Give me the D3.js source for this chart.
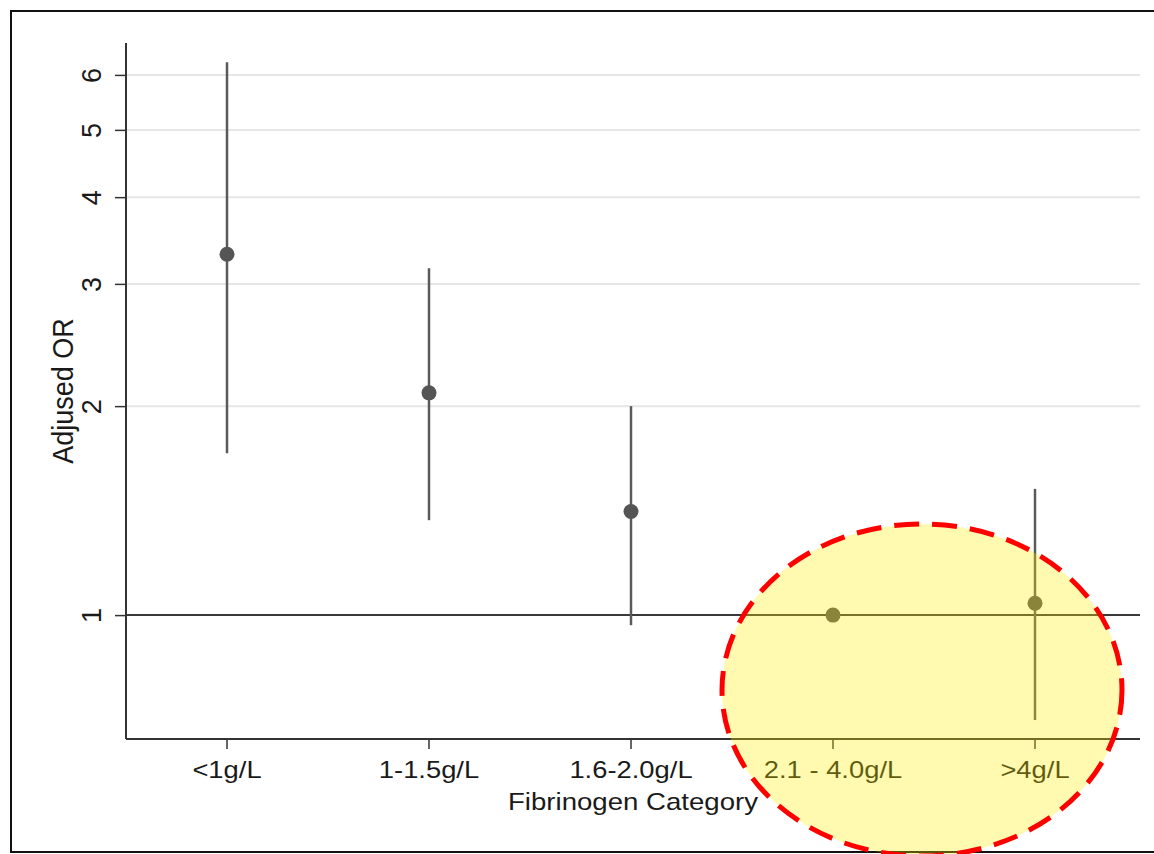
<!DOCTYPE html>
<html>
<head>
<meta charset="utf-8">
<script src="https://cdn.jsdelivr.net/npm/d3@7"></script>
<style>
  body { margin: 0; background: #fff; }
  text { font-family: "Liberation Sans", Arial, Helvetica, sans-serif; fill: #1a1a1a; }
</style>
</head>
<body>
<div id="chart"></div>
<script>
// data
var categories = ["<1g/L", "1-1.5g/L", "1.6-2.0g/L", "2.1 - 4.0g/L", ">4g/L"];
var orValues = [3.31, 2.09, 1.41, 1.00, 1.04];
var ciLow = [1.71, 1.37, 0.967, null, 0.706];
var ciHigh = [6.26, 3.16, 2.00, null, 1.52];
var yTicks = [1, 2, 3, 4, 5, 6];
var yDomain = [0.663, 6.67];

var width = 1154, height = 854;
var plotLeft = 126, plotRight = 1136, gridRight = 1140;
var plotTop = 43, plotBottom = 739;

var svg = d3.select("#chart")
    .append("svg")
    .attr("width", width)
    .attr("height", height);

// frame round the figure
svg.append("rect")
    .attr("x", 11)
    .attr("y", 11)
    .attr("width", 1160)
    .attr("height", 841)
    .attr("fill", "#fff")
    .attr("stroke", "#111")
    .attr("stroke-width", 2);

var x = d3.scaleBand()
    .domain(categories)
    .range([plotLeft, plotRight])
    .padding(0);

var y = d3.scaleLog()
    .domain(yDomain)
    .range([plotBottom, plotTop]);

var cx = function(i){ return x(categories[i]) + x.bandwidth() / 2; };

// gridlines (not at 1, that one is the reference line)
svg.append("g")
    .selectAll("line")
    .data(yTicks.filter(function(d){ return d !== 1; }))
    .enter()
    .append("line")
    .attr("x1", plotLeft)
    .attr("x2", gridRight)
    .attr("y1", function(d){ return y(d); })
    .attr("y2", function(d){ return y(d); })
    .attr("stroke", "#e6e6e6")
    .attr("stroke-width", 2);

// reference line at OR = 1
svg.append("line")
    .attr("x1", plotLeft)
    .attr("x2", gridRight)
    .attr("y1", y(1))
    .attr("y2", y(1))
    .attr("stroke", "#3a3a3a")
    .attr("stroke-width", 2);

// y axis
var yAxis = svg.append("g")
    .attr("transform", "translate(" + plotLeft + ",0)")
    .call(d3.axisLeft(y).tickValues(yTicks).tickFormat(d3.format("d")).tickSize(11));
yAxis.select(".domain").remove();
yAxis.append("line")
    .attr("x1", 0).attr("x2", 0)
    .attr("y1", plotTop).attr("y2", plotBottom)
    .attr("stroke", "#333").attr("stroke-width", 2);
yAxis.selectAll(".tick line").attr("stroke", "#333").attr("stroke-width", 1.5);
yAxis.selectAll(".tick text")
    .attr("x", 0)
    .attr("dy", 0)
    .attr("text-anchor", "middle")
    .attr("font-size", 25)
    .attr("fill", "#1a1a1a")
    .attr("transform", "translate(-25,0) rotate(-90) scale(1.08,1.12)");

// x axis
var xAxis = svg.append("g")
    .attr("transform", "translate(0," + plotBottom + ")")
    .call(d3.axisBottom(x).tickSize(10));
xAxis.select(".domain").remove();
xAxis.append("line")
    .attr("x1", plotLeft).attr("x2", gridRight)
    .attr("y1", 0).attr("y2", 0)
    .attr("stroke", "#333").attr("stroke-width", 2);
xAxis.selectAll(".tick line").attr("stroke", "#333").attr("stroke-width", 1.5);
xAxis.selectAll(".tick text")
    .attr("y", 39)
    .attr("dy", 0)
    .attr("font-size", 23)
    .attr("fill", "#1a1a1a")
    .attr("transform", "scale(1.19,1)");

// axis titles
svg.append("text")
    .attr("text-anchor", "middle")
    .attr("font-size", 24)
    .attr("transform", "translate(633,810) scale(1.15,1)")
    .text("Fibrinogen Category");

svg.append("text")
    .attr("text-anchor", "middle")
    .attr("font-size", 25)
    .attr("transform", "translate(73,391) rotate(-90) scale(1.08,1.15)")
    .text("Adjused OR");

// confidence intervals
var idx = d3.range(categories.length);
svg.append("g")
    .selectAll("line")
    .data(idx.filter(function(i){ return ciLow[i] !== null; }))
    .enter()
    .append("line")
    .attr("x1", cx).attr("x2", cx)
    .attr("y1", function(i){ return y(ciLow[i]); })
    .attr("y2", function(i){ return y(ciHigh[i]); })
    .attr("stroke", "#5a5a5a")
    .attr("stroke-width", 2.5);

// point estimates
svg.append("g")
    .selectAll("circle")
    .data(idx)
    .enter()
    .append("circle")
    .attr("cx", cx)
    .attr("cy", function(i){ return y(orValues[i]); })
    .attr("r", 7.5)
    .attr("fill", "#555");

// highlight ellipse over the last two categories
svg.append("ellipse")
    .attr("cx", 922)
    .attr("cy", 690)
    .attr("rx", 200)
    .attr("ry", 166)
    .attr("fill", "#fff000")
    .attr("fill-opacity", 0.31)
    .attr("stroke", "#f00")
    .attr("stroke-width", 5)
    .attr("stroke-dasharray", "25,13");
</script>
</body>
</html>
